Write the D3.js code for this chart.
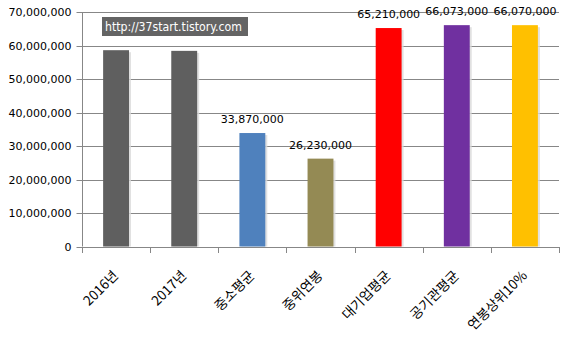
<!DOCTYPE html>
<html><head><meta charset="utf-8">
<script src="https://cdn.jsdelivr.net/npm/d3@7"></script>
<style>body{margin:0;background:#fff}svg{display:block}</style>
</head><body>
<svg id="c" width="570" height="341"></svg>
<script>
const categories = ["2016년","2017년","중소평균","중위연봉","대기업평균","공기관평균","연봉상위10%"];
const values = [58600000, 58400000, 33870000, 26230000, 65210000, 66073000, 66070000];
const colors = ["#5f5f5f","#5f5f5f","#4f81bd","#948a54","#ff0000","#7030a0","#ffc000"];
const showLabel = [false,false,true,true,true,true,true];
const yTicks = [0,10000000,20000000,30000000,40000000,50000000,60000000,70000000];
const watermark = "http://37start.tistory.com";

const svg = d3.select("#c");
const L = 82, R = 559, T = 12, B = 246.5;
const x = d3.scaleBand().domain(categories).range([L, R]).paddingInner(0.62).paddingOuter(0.31);
const y = d3.scaleLinear().domain([0, 70000000]).range([B, T]);
const fmt = d3.format(",");
const font = "DejaVu Sans, Verdana, sans-serif";

// gridlines
svg.append("g").selectAll("line").data(yTicks.filter(d=>d>0)).join("line")
  .attr("x1", L).attr("x2", R).attr("y1", d=>Math.round(y(d))+0.5).attr("y2", d=>Math.round(y(d))+0.5)
  .attr("stroke", "#878787").attr("stroke-width", 1);

// y axis
const ya = svg.append("g").attr("transform", `translate(${L+0.5},0)`)
  .call(d3.axisLeft(y).tickValues(yTicks).tickFormat(fmt).tickSize(6).tickPadding(5));
ya.select(".domain").attr("stroke", "#878787").attr("d", `M0,${T}V${B}`);
ya.selectAll(".tick line").attr("stroke", "#878787");
ya.selectAll(".tick").attr("transform", d=>`translate(0,${Math.round(y(d))+0.5})`);
ya.selectAll("text").attr("font-family", font).attr("font-size", 11).attr("fill", "#000");

// x axis
const band = (R - L) / categories.length;
const xTickPos = d3.range(categories.length + 1).map(i => L + i * band);
const xa = svg.append("g");
xa.append("line").attr("x1", L).attr("x2", R).attr("y1", Math.round(B)+0.5).attr("y2", Math.round(B)+0.5).attr("stroke", "#878787");
xa.selectAll("line.t").data(xTickPos).join("line").attr("class","t")
  .attr("x1", d=>Math.round(d)+0.5).attr("x2", d=>Math.round(d)+0.5)
  .attr("y1", Math.round(B)).attr("y2", Math.round(B)+6).attr("stroke", "#878787");

// watermark
svg.append("rect").attr("x", 102).attr("y", 17).attr("width", 146).attr("height", 19).attr("fill", "#646464");
svg.append("text").attr("x", 105).attr("y", 31).text(watermark)
  .attr("font-family", font).attr("font-size", 11.5).attr("fill", "#fff")
  .attr("textLength", 137).attr("lengthAdjust", "spacingAndGlyphs");

// bar shadows
svg.append("g").selectAll("rect").data(categories).join("rect")
  .attr("x", d=>x(d)+2).attr("y", (d,i)=>y(values[i])+2)
  .attr("width", x.bandwidth()).attr("height", (d,i)=>B - y(values[i]) - 2)
  .attr("fill", "#d9d9d9").attr("opacity", 0.8);
// bars
svg.append("g").selectAll("rect").data(categories).join("rect")
  .attr("x", d=>x(d)).attr("y", (d,i)=>y(values[i]))
  .attr("width", x.bandwidth()).attr("height", (d,i)=>B - y(values[i]))
  .attr("fill", (d,i)=>colors[i]);

// value labels
svg.append("g").selectAll("text").data(categories.filter((d,i)=>showLabel[i])).join("text")
  .attr("x", d=>x(d)+x.bandwidth()/2)
  .attr("y", d=>y(values[categories.indexOf(d)]) - 10)
  .attr("text-anchor", "middle").attr("font-family", font).attr("font-size", 11).attr("fill", "#000")
  .text(d=>fmt(values[categories.indexOf(d)]));

// category labels
svg.append("g").selectAll("text").data(categories).join("text")
  .attr("transform", d=>`translate(${x(d)+x.bandwidth()/2+3},${B+30}) rotate(-45)`)
  .attr("text-anchor", "end")
  .attr("font-family", "Noto Sans CJK KR, DejaVu Sans, sans-serif").attr("font-size", 13.5).attr("fill", "#000")
  .text(d=>d);
</script>
</body></html>
